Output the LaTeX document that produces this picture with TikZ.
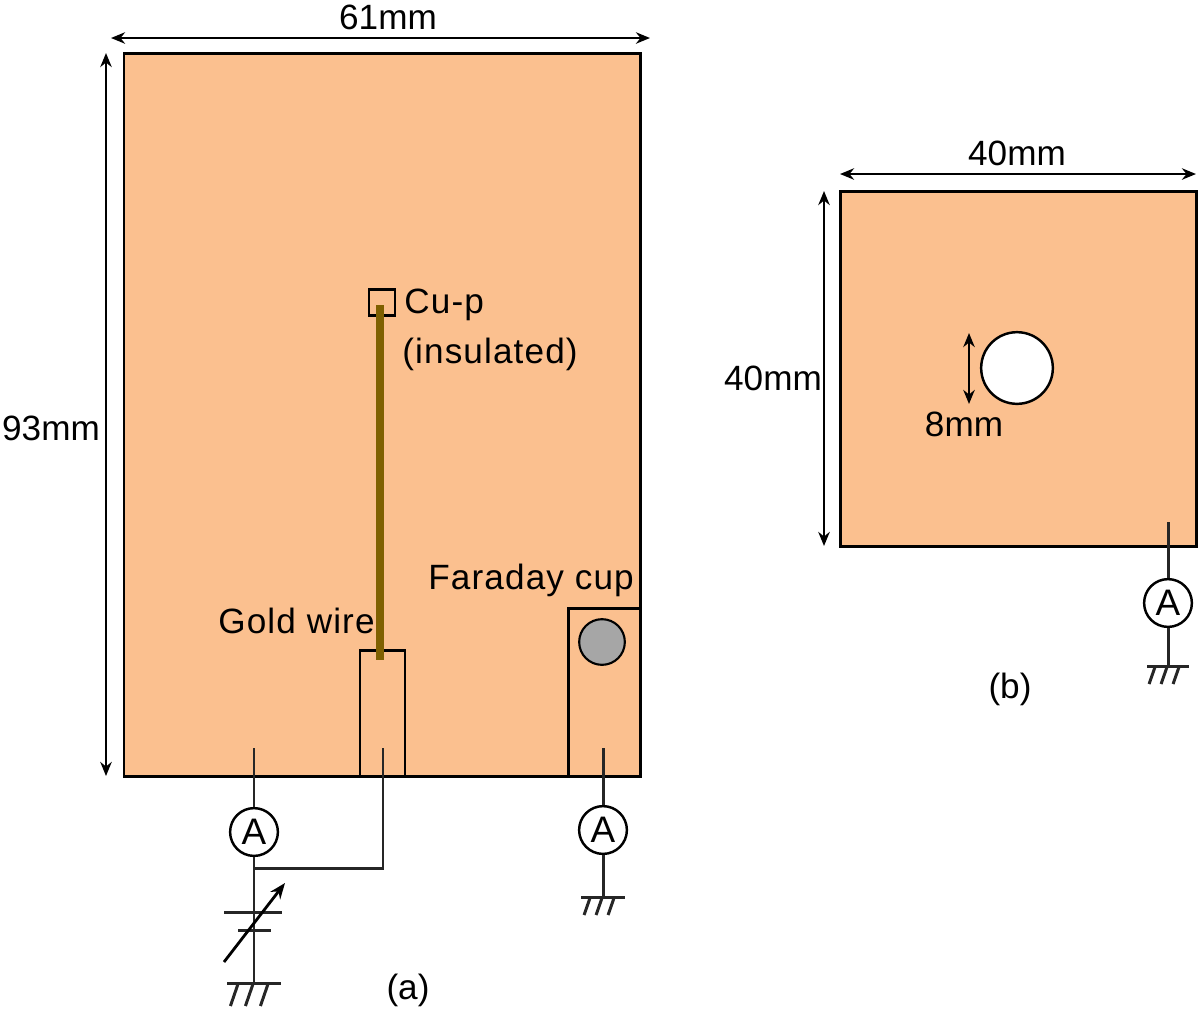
\documentclass[tikz,border=0pt]{standalone}
\usepackage{fontspec}
\setmainfont{Liberation Sans}
\newfontface\spaced[LetterSpace=3.2]{Liberation Sans}
\usetikzlibrary{arrows, positioning, calc, arrows.meta}
\definecolor{plate}{HTML}{FBC08F}
\definecolor{gold}{HTML}{7F6000}
\tikzstyle{arrow} = [<->, >={Stealth[length=8pt,width=6.5pt]}, line width=1.4pt]
\tikzstyle{wire} = [line width=1.7pt, black!85]
\tikzstyle{label} = [inner sep=0pt, font=\fontsize{20}{24}\selectfont]
\tikzstyle{wide label} = [label, anchor=west, font=\fontsize{20}{24}\spaced]
\tikzstyle{meter} = [draw, circle, fill=white, line width=1.4pt, minimum size=27.2pt, inner sep=0pt, font=\fontsize{21}{24}\selectfont]

\begin{document}
\begin{tikzpicture}
	[x=0.02cm, y=-0.02cm,
	board/.style={draw, fill=plate, line width=1.7pt}]
	\useasboundingbox (0,0) rectangle (1200,1009);

	% plates
	\draw[board] (124,53) rectangle (640,776);
	\draw[board] (840,191) rectangle (1196,546);
	\draw[board] (568,608) rectangle (640,776);
	\draw[board] (360,650) rectangle (405,776);
	\draw[line width=1.7pt] (369,289) rectangle (395,315);
	\node (hole) at (1017,368) [draw, circle, fill=white, line width=1.4pt, minimum size=40.8pt, inner sep=0pt] {};
	\node (cup) at (602,642) [draw, circle, fill=black!35, line width=1.2pt, minimum size=26pt, inner sep=0pt] {};
	\coordinate (wire1) at (380,305);
	\coordinate (wire2) at (380,660);
	\draw[gold, line width=4pt] (wire1) -- (wire2);

	% dimensions
	\coordinate (w1) at (111,38);
	\coordinate (w2) at (650,38);
	\coordinate (h1) at (106,53);
	\coordinate (h2) at (106,776);
	\coordinate (w3) at (840,174);
	\coordinate (w4) at (1196,174);
	\coordinate (h3) at (824,191);
	\coordinate (h4) at (824,546);
	\coordinate (d1) at (969,333);
	\coordinate (d2) at (969,404);
	\draw[arrow] (w1) -- (w2);
	\draw[arrow] (h1) -- (h2);
	\draw[arrow] (w3) -- (w4);
	\draw[arrow] (h3) -- (h4);
	\draw[arrow] (d1) -- (d2);

	% meters and wires
	\node[meter] (a1) at (254,832) {A};
	\node[meter] (a2) at (603,830) {A};
	\node[meter] (a3) at (1168,603) {A};
	\coordinate (t1) at (254,748);
	\coordinate (t2) at (383,748);
	\coordinate (t3) at (603,748);
	\coordinate (t4) at (1168,522);
	\coordinate (j1) at (254,868);
	\coordinate (g1) at (254,983);
	\coordinate (g2) at (603,897);
	\coordinate (g3) at (1168,666);
	\coordinate (v1) at (224,962);
	\coordinate (v2) at (285,883);
	\draw[wire] (t1) -- (a1);
	\draw[wire] (a1) -- (g1);
	\draw[wire] (j1) -| (t2);
	\draw[wire] (t3) -- (a2);
	\draw[wire] (a2) -- (g2);
	\draw[wire] (t4) -- (a3);
	\draw[wire] (a3) -- (g3);

	% battery
	\draw[wire] (224,912) -- (282,912);
	\draw[wire] (238,930) -- (271,930);
	\draw[->, >={Stealth[length=9pt,width=7pt]}, line width=1.6pt] (v1) -- (v2);

	% grounds
	\foreach \g/\w/\s/\l in {g1/27/15/23, g2/22/12/18, g3/21/12/18} {
		\draw[wire] ($(\g)+(-\w,0)$) -- ($(\g)+(\w,0)$);
		\foreach \k in {-1,0,1}
			\draw[wire] ($(\g)+(\k*\s-1,1)$) -- ($(\g)+(\k*\s-1-0.33*\l,\l)$);
	}

	% labels
	\node[label] (n61) at (388,17) {61mm};
	\node[label] (n93) at (51,428) {93mm};
	\node[label] (n40a) at (1017,153) {40mm};
	\node[label] (n40b) at (773,378) {40mm};
	\node[label] (n8) at (964,424) {8mm};
	\node[wide label] (cu) at (404,305) {Cu-p};
	\node[wide label] (ins) at (402,354) {(insulated)};
	\node[wide label] (far) at (428,580) {Faraday cup};
	\node[wide label] (gw) at (218,621) {Gold wire};
	\node[label] (la) at (408,990) {(a)};
	\node[label] (lb) at (1010,689) {(b)};
\end{tikzpicture}
\end{document}
